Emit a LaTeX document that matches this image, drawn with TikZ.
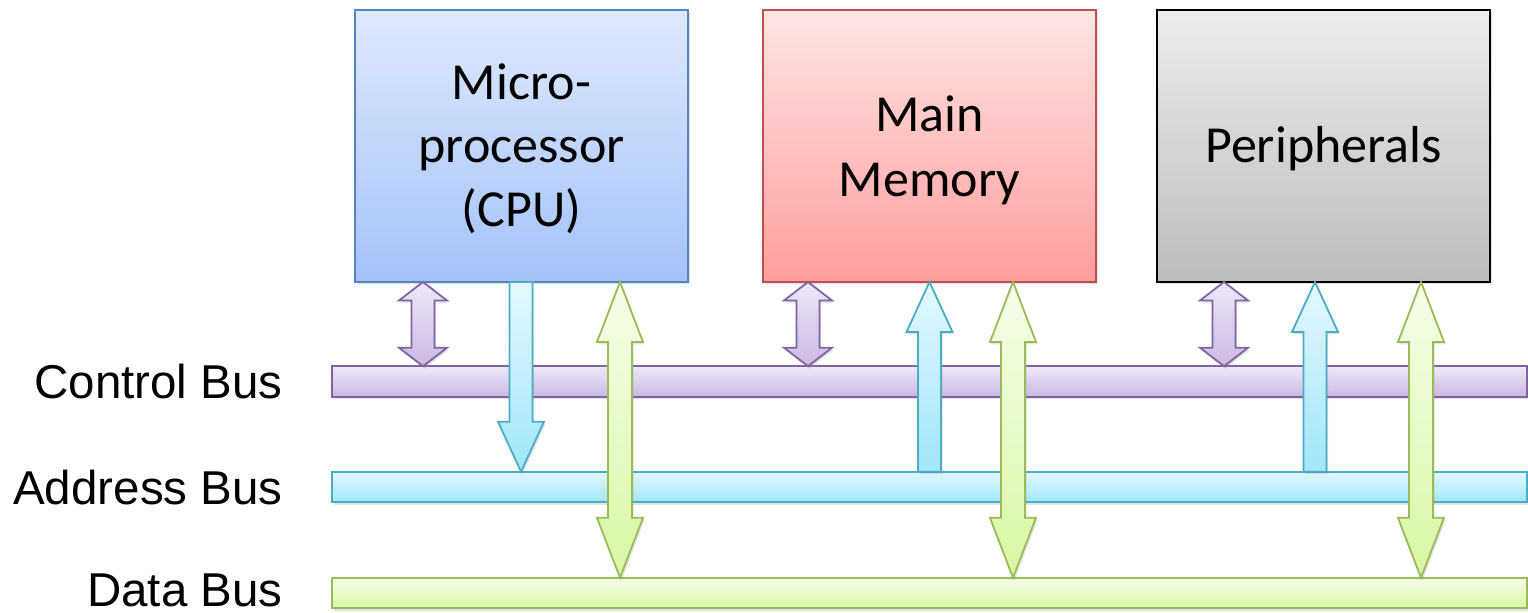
\documentclass[tikz,border=0pt]{standalone}
\usepackage{fontspec}
\setmainfont{Carlito}
\newfontfamily\arialf{Liberation Sans}
\usetikzlibrary{shadows,calc}
\definecolor{cpuT}{HTML}{DFE9FD}
\definecolor{cpuB}{HTML}{A4C2F9}
\definecolor{cpuD}{HTML}{5585C4}
\definecolor{memT}{HTML}{FFE5E5}
\definecolor{memB}{HTML}{FF9D9D}
\definecolor{memD}{HTML}{C0504D}
\definecolor{perT}{HTML}{EDEDED}
\definecolor{perB}{HTML}{BCBCBC}
\definecolor{purT}{HTML}{EFE8F8}
\definecolor{purB}{HTML}{CBB8E4}
\definecolor{purD}{HTML}{8064A2}
\definecolor{cyaT}{HTML}{E4F8FE}
\definecolor{cyaB}{HTML}{A0E6FA}
\definecolor{cyaD}{HTML}{4BACC6}
\definecolor{greT}{HTML}{F5FDEA}
\definecolor{greB}{HTML}{D8F8A4}
\definecolor{greD}{HTML}{9BBB59}
\tikzset{
  shad/.style={drop shadow={opacity=0.22,shadow xshift=0.8pt,shadow yshift=-1.2pt}},
  unitbox/.style={rectangle,inner sep=0pt,outer sep=0pt,line width=0.8pt,shad},
  cpubox/.style={unitbox,draw=cpuD,top color=cpuT,bottom color=cpuB,minimum width=166.5pt,minimum height=136pt},
  membox/.style={unitbox,draw=memD,top color=memT,bottom color=memB,minimum width=166.5pt,minimum height=136pt},
  perbox/.style={unitbox,draw=black,top color=perT,bottom color=perB,minimum width=166.5pt,minimum height=136pt},
  busbar/.style={unitbox,minimum width=597.5pt,minimum height=15.25pt},
  ctrlbus/.style={busbar,draw=purD,top color=purT,bottom color=purB},
  addrbus/.style={busbar,draw=cyaD,top color=cyaT,bottom color=cyaB},
  databus/.style={busbar,draw=greD,top color=greT,bottom color=greB},
  purarr/.style={draw=purD,top color=purT,bottom color=purB,line width=0.9pt,line join=miter,shad},
  cyaarr/.style={draw=cyaD,top color=cyaT,bottom color=cyaB,line width=0.9pt,line join=miter,shad},
  grearr/.style={draw=greD,top color=greT,bottom color=greB,line width=0.9pt,line join=miter,shad},
  boxtext/.style={inner sep=0pt,anchor=base,font=\fontsize{26pt}{31.5pt}\selectfont},
  buslabel/.style={inner sep=0pt,anchor=base east,font=\arialf\fontsize{23.75pt}{28pt}\selectfont},
}
% #1 name, #2 x, #3 top node, #4 bottom node, #5 style, #6 half shaft, #7 half head, #8 head length
\newcommand\dblarrow[8]{%
  \coordinate (#1) at (#2,0);
  \path[#5] let \p1=(#1 |- #3.south), \p2=(#1 |- #4.north) in
    (\x1,\y1) -- (\x1+#7,\y1-#8) -- (\x1+#6,\y1-#8) -- (\x1+#6,\y2+#8) -- (\x1+#7,\y2+#8)
    -- (\x1,\y2) -- (\x1-#7,\y2+#8) -- (\x1-#6,\y2+#8) -- (\x1-#6,\y1-#8) -- (\x1-#7,\y1-#8) -- cycle;}
\newcommand\arrdown[8]{%
  \coordinate (#1) at (#2,0);
  \path[#5] let \p1=(#1 |- #3.south), \p2=(#1 |- #4.north) in
    (\x1-#6,\y1) -- (\x1+#6,\y1) -- (\x1+#6,\y2+#8) -- (\x1+#7,\y2+#8) -- (\x1,\y2)
    -- (\x1-#7,\y2+#8) -- (\x1-#6,\y2+#8) -- cycle;}
\newcommand\arrup[8]{%
  \coordinate (#1) at (#2,0);
  \path[#5] let \p1=(#1 |- #3.south), \p2=(#1 |- #4.north) in
    (\x1,\y1) -- (\x1+#7,\y1-#8) -- (\x1+#6,\y1-#8) -- (\x1+#6,\y2) -- (\x1-#6,\y2)
    -- (\x1-#6,\y1-#8) -- (\x1-#7,\y1-#8) -- cycle;}
\begin{document}
\begin{tikzpicture}[x=0.5pt,y=-0.5pt]
\useasboundingbox (0,0) rectangle (1528,613);
% buses
\node[ctrlbus] (ctrl) at (929.5,381.5) {};
\node[addrbus] (addr) at (929.5,487) {};
\node[databus] (data) at (929.5,593) {};
% boxes
\node[cpubox] (cpu) at (521.5,146) {};
\node[membox] (mem) at (929.5,146) {};
\node[perbox] (per) at (1323.5,146) {};
% box texts
\node[boxtext] (cpu1) at (521.5,100) {Micro-};
\node[boxtext] (cpu2) at (521.5,163) {processor};
\node[boxtext] (cpu3) at (521.5,227) {(CPU)};
\node[boxtext] (mem1) at (929.5,132) {Main};
\node[boxtext] (mem2) at (929.5,197) {Memory};
\node[boxtext] (per1) at (1323.5,163) {Peripherals};
% bus labels
\node[buslabel] (lctrl) at (283,399) {Control Bus};
\node[buslabel] (laddr) at (283,505) {Address Bus};
\node[buslabel] (ldata) at (283,607) {Data Bus};
% CPU arrows
\dblarrow{pc}{423}{cpu}{ctrl}{purarr}{5.75pt}{12pt}{9.25pt}
\arrdown{ac}{521}{cpu}{addr}{cyaarr}{5.75pt}{11.5pt}{25pt}
\dblarrow{dc}{620}{cpu}{data}{grearr}{6pt}{11.5pt}{30pt}
% Memory arrows
\dblarrow{pm}{808}{mem}{ctrl}{purarr}{5.75pt}{12pt}{9.25pt}
\arrup{am}{929.5}{mem}{addr}{cyaarr}{5.75pt}{11.5pt}{25pt}
\dblarrow{dm}{1013}{mem}{data}{grearr}{6pt}{11.5pt}{30pt}
% Peripheral arrows
\dblarrow{pp}{1224}{per}{ctrl}{purarr}{5.75pt}{12pt}{9.25pt}
\arrup{ap}{1315}{per}{addr}{cyaarr}{5.75pt}{11.5pt}{25pt}
\dblarrow{dp}{1421}{per}{data}{grearr}{6pt}{11.5pt}{30pt}
\end{tikzpicture}
\end{document}
